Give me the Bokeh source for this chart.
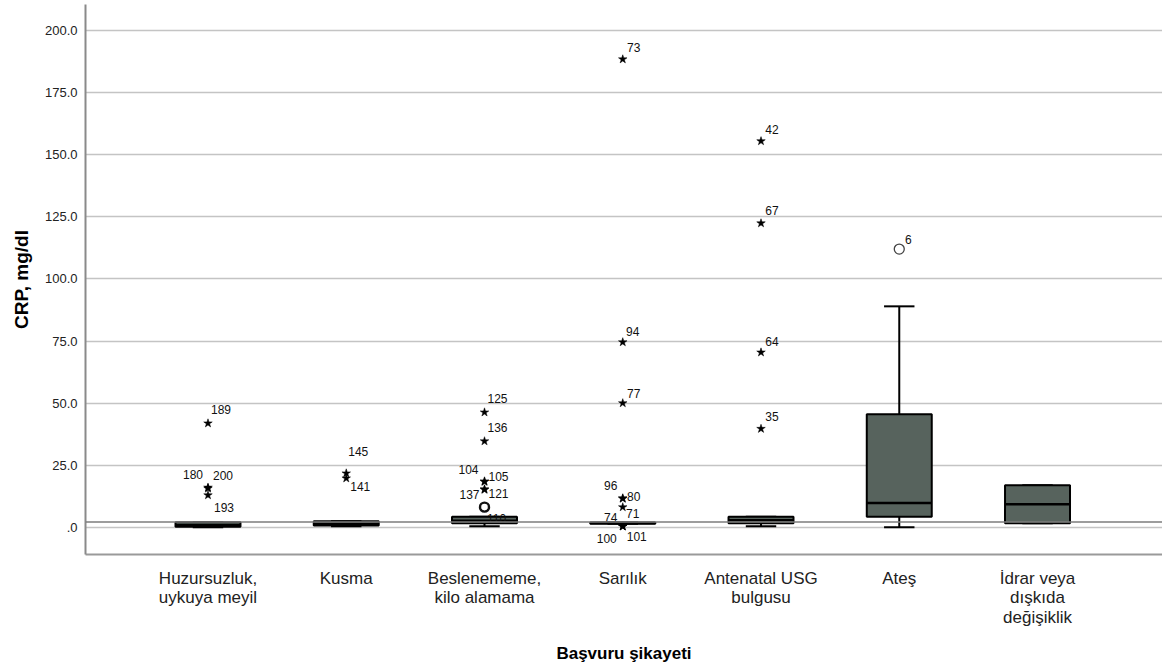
from bokeh.plotting import figure
from bokeh.models import FixedTicker, PrintfTickFormatter, ColumnDataSource, Span, Range1d
from bokeh.core.properties import value
from bokeh.embed import file_html
from bokeh.resources import INLINE

# ---- data ----
categories = ["Huzursuzluk,\nuykuya meyil", "Kusma", "Beslenememe,\nkilo alamama", "Sarılık",
              "Antenatal USG\nbulgusu", "Ateş", "İdrar veya\ndışkıda\ndeğişiklik"]
whisker_low = [0.2, 0.6, 0.6, 1.6, 0.6, 0.2, 1.8]
q1 = [0.4, 0.9, 1.8, 1.6, 1.8, 4.4, 1.8]
median = [1.0, 1.6, 2.8, 1.9, 3.0, 10.0, 9.5]
q3 = [2.2, 2.6, 4.4, 2.1, 4.4, 45.6, 17.1]
whisker_high = [2.2, 2.6, 4.4, 2.1, 4.4, 89.0, 17.1]

outlier_cat = [1, 1, 1, 1, 2, 2, 3, 3, 3, 3, 3, 3, 3,
               4, 4, 4, 4, 4, 4, 4, 4, 4, 5, 5, 5, 5, 6]
outlier_val = [42.0, 16.2, 15.8, 13.1, 21.9, 19.9, 46.4, 34.8, 18.7, 18.5, 15.5, 15.3, 8.3,
               188.3, 74.6, 50.1, 11.9, 11.7, 8.3, 0.6, 0.6, 0.6, 155.4, 122.4, 70.5, 39.8, 112.0]
outlier_id = ["189", "180", "200", "193", "145", "141", "125", "136", "104", "105", "137", "121", "110",
              "73", "94", "77", "96", "80", "71", "74", "100", "101", "42", "67", "64", "35", "6"]
outlier_kind = ["star"] * 12 + ["circle"] + ["star"] * 13 + ["circle"]

ref_value = 2.3
y_ticks = [0, 25, 50, 75, 100, 125, 150, 175, 200]

# ---- label placement (screen pixels) ----
label_dx = [13, -15, 15, 16, 12, 14, 13, 13, -16, 14, -15, 14, 12,
            11, 10, 11, -12, 11, 10, -12, -16, 14, 11, 11, 11, 11, 9]
label_dy = [-14, -13, -13, 12, -22, 8, -14, -14, -12, -5, 5, 4, 11,
            -12, -11, -10, -13, -2, 6, -9, 12, 10, -12, -13, -11, -12, -10]

FONT = "Liberation Sans"
BOX_FILL = "#57635d"
BW = 0.47
CAP = 0.22

xs = list(range(1, len(categories) + 1))

p = figure(width=1162, height=672, output_backend="svg", toolbar_location=None,
           x_range=Range1d(0.114, 7.904), y_range=Range1d(-10.73, 210.3),
           min_border_left=85, min_border_right=0, min_border_top=4, min_border_bottom=118)
p.outline_line_color = None
p.background_fill_color = "white"
p.xgrid.visible = False
p.ygrid.grid_line_color = "#c4c4c4"
p.ygrid.grid_line_width = 1.5

# reference line
p.add_layout(Span(location=ref_value, dimension="width", line_color="#7d7d7d", line_width=1.5))

src = ColumnDataSource(dict(x=xs, lo=whisker_low, q1=q1, med=median, q3=q3, hi=whisker_high))
# whiskers
p.segment(x0="x", y0="q3", x1="x", y1="hi", source=src, line_color="black", line_width=2)
p.segment(x0="x", y0="lo", x1="x", y1="q1", source=src, line_color="black", line_width=2)
src.data["cl"] = [x - CAP / 2 for x in xs]
src.data["cr"] = [x + CAP / 2 for x in xs]
p.segment(x0="cl", y0="hi", x1="cr", y1="hi", source=src, line_color="black", line_width=2)
p.segment(x0="cl", y0="lo", x1="cr", y1="lo", source=src, line_color="black", line_width=2)
# boxes
p.vbar(x="x", width=BW, bottom="q1", top="q3", source=src, fill_color=BOX_FILL,
       line_color="black", line_width=2)
src.data["bl"] = [x - BW / 2 for x in xs]
src.data["br"] = [x + BW / 2 for x in xs]
p.segment(x0="bl", y0="med", x1="br", y1="med", source=src, line_color="black", line_width=2.5)

# outliers
stars = [i for i, k in enumerate(outlier_kind) if k == "star"]
circs = [i for i, k in enumerate(outlier_kind) if k == "circle"]
p.scatter([outlier_cat[i] for i in stars], [outlier_val[i] for i in stars], marker="star",
          size=9, fill_color="black", line_color="black", line_width=0.5)
p.scatter([outlier_cat[circs[0]]], [outlier_val[circs[0]]], marker="circle",
          size=9, fill_color=None, line_color="#111111", line_width=2.4)
p.scatter([outlier_cat[circs[1]]], [outlier_val[circs[1]]], marker="circle",
          size=10, fill_color=None, line_color="#444444", line_width=1.3)

lsrc = ColumnDataSource(dict(x=outlier_cat, y=outlier_val, t=outlier_id, dx=label_dx, dy=label_dy))
p.text(x="x", y="y", text="t", x_offset="dx", y_offset="dy", source=lsrc,
       text_font=value(FONT), text_font_size="12px", text_color="#111111",
       text_align="center", text_baseline="middle")

# axes
xa = p.xaxis[0]
xa.ticker = FixedTicker(ticks=xs)
xa.major_label_overrides = {x: c for x, c in zip(xs, categories)}
xa.major_tick_line_color = None
xa.major_tick_out = 0
xa.major_tick_in = 0
xa.minor_tick_line_color = None
xa.minor_tick_out = 0
xa.axis_line_color = "#9a9a9a"
xa.axis_line_width = 2
xa.major_label_text_font = FONT
xa.major_label_text_font_size = "17px"
xa.major_label_text_line_height = 1.05
xa.major_label_text_color = "#222222"
xa.major_label_standoff = 14
xa.axis_label = "Başvuru şikayeti"
xa.axis_label_text_font = FONT
xa.axis_label_text_font_size = "17px"
xa.axis_label_text_font_style = "bold"
xa.axis_label_text_color = "black"
xa.axis_label_standoff = 14

ya = p.yaxis[0]
ya.ticker = FixedTicker(ticks=y_ticks)
ya.formatter = PrintfTickFormatter(format="%.1f")
ya.major_label_overrides = {0: ".0"}
ya.major_tick_line_color = None
ya.major_tick_out = 0
ya.major_tick_in = 0
ya.minor_tick_line_color = None
ya.minor_tick_out = 0
ya.axis_line_color = "#8a8a8a"
ya.axis_line_width = 2
ya.major_label_text_font = FONT
ya.major_label_text_font_size = "13px"
ya.major_label_text_color = "#222222"
ya.major_label_standoff = 8
ya.axis_label = "CRP, mg/dl"
ya.axis_label_text_font = FONT
ya.axis_label_text_font_size = "19px"
ya.axis_label_text_font_style = "bold"
ya.axis_label_text_color = "black"
ya.axis_label_standoff = 10

open("out.html", "w").write(file_html(p, INLINE))
